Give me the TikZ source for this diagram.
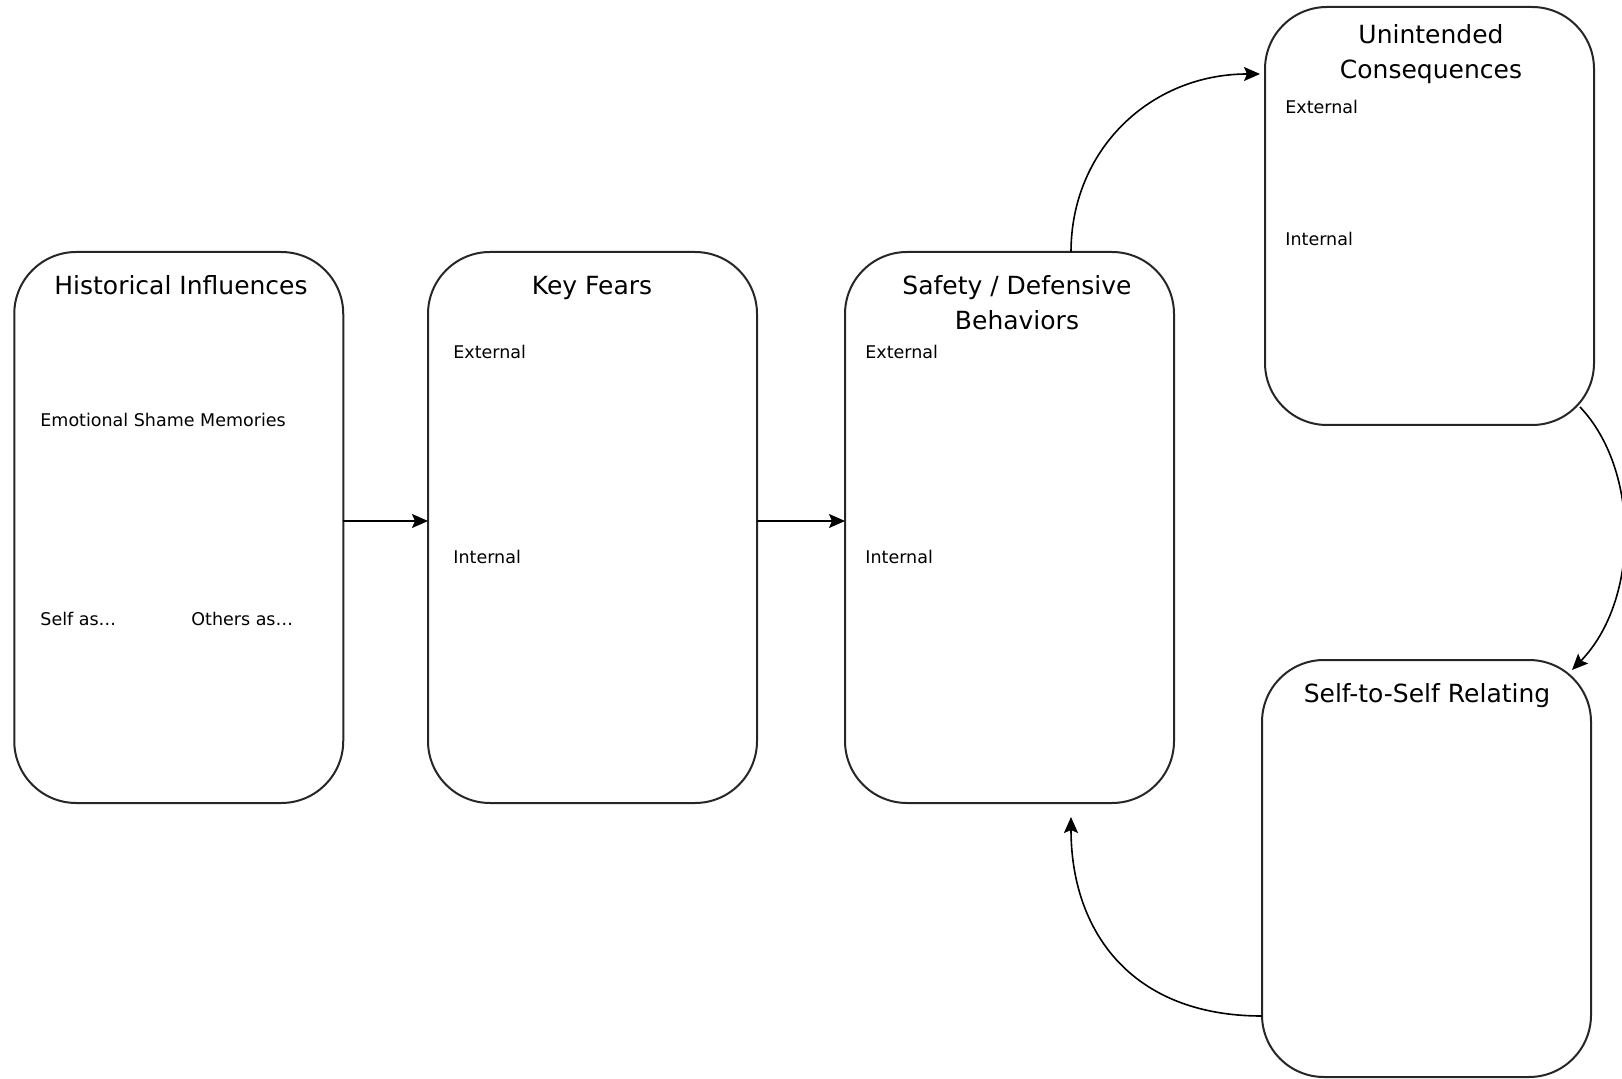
\documentclass[tikz,border=0pt]{standalone}
\usepackage{fontspec}
\setmainfont{DejaVu Sans}
\usetikzlibrary{arrows.meta}
\begin{document}
\begin{tikzpicture}[x=0.5pt,y=-0.5pt,
  box/.style={draw=black!85, line width=1pt, rounded corners=31pt, inner sep=0pt, outer sep=0pt},
  ttl/.style={font=\fontsize{12.5}{17.5}\selectfont, anchor=base, inner sep=0pt},
  lbl/.style={font=\fontsize{8.75}{10}\selectfont, anchor=west, inner sep=0pt},
  arr/.style={line width=0.8pt, -{Stealth[length=8pt,width=7pt,inset=1.5pt]}}]
\useasboundingbox (0,0) rectangle (1622,1079);
% boxes
\node[box, minimum width=164.5pt, minimum height=275.5pt] (hist) at (178.75,527.5) {};
\node[box, minimum width=164.5pt, minimum height=275.5pt] (fears) at (592.5,527.5) {};
\node[box, minimum width=164.5pt, minimum height=275.5pt] (safety) at (1009.5,527.5) {};
\node[box, minimum width=164.5pt, minimum height=209pt] (uncon) at (1429.5,216) {};
\node[box, minimum width=164.5pt, minimum height=208.5pt] (self) at (1426.5,868.5) {};
% titles
\node[ttl] (t1) at (181,295) {Historical Influences};
\node[ttl] (t2) at (592,295) {Key Fears};
\node[ttl] (t3a) at (1017,295) {Safety / Defensive};
\node[ttl] (t3b) at (1017,330) {Behaviors};
\node[ttl] (t4a) at (1431,44) {Unintended};
\node[ttl] (t4b) at (1431,79) {Consequences};
\node[ttl] (t5) at (1427,702) {Self-to-Self Relating};
% labels
\node[lbl] (l1) at (40,420) {Emotional Shame Memories};
\node[lbl] (l2) at (40,619) {Self as…};
\node[lbl] (l3) at (191,619) {Others as…};
\node[lbl] (l4) at (453,352) {External};
\node[lbl] (l5) at (453,557) {Internal};
\node[lbl] (l6) at (865,352) {External};
\node[lbl] (l7) at (865,557) {Internal};
\node[lbl] (l8) at (1285,107) {External};
\node[lbl] (l9) at (1285,239) {Internal};
% connectors
\coordinate (ay) at (0,521);
\draw[arr] (hist.east |- ay) -- (fears.west |- ay);
\draw[arr] (fears.east |- ay) -- (safety.west |- ay);
\coordinate (c1s) at (1071,252);
\coordinate (c1e) at (1260,74);
\draw[arr] (c1s) .. controls (1071,150) and (1150,74) .. (c1e);
\coordinate (c2s) at (1580,407);
\coordinate (c2e) at (1572,670);
\draw[arr] (c2s) .. controls (1640,470) and (1640,600) .. (c2e);
\coordinate (c3s) at (1262,1016);
\coordinate (c3e) at (1071,817);
\draw[arr] (c3s) .. controls (1130,1016) and (1071,930) .. (c3e);
\end{tikzpicture}
\end{document}
